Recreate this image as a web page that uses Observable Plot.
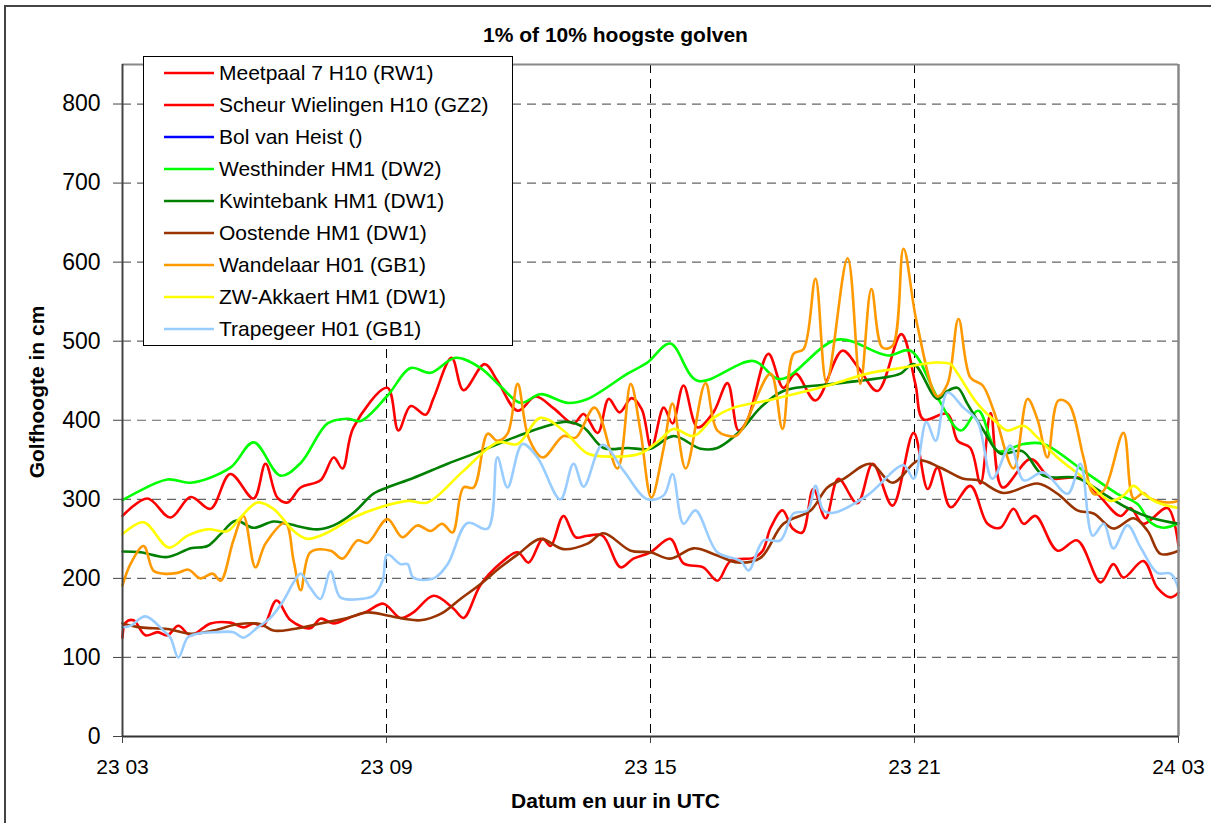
<!DOCTYPE html>
<html>
<head>
<meta charset="utf-8">
<script src="https://cdn.jsdelivr.net/npm/d3@7"></script>
<script src="https://cdn.jsdelivr.net/npm/@observablehq/plot@0.6"></script>
<style>
  html, body { margin: 0; padding: 0; background: #fff; }
  body { font-family: "Liberation Sans", Arial, sans-serif; }
  #wrap { position: relative; width: 1211px; height: 823px; overflow: hidden; background: #fff; }
  #frame { position: absolute; left: 4px; top: 5px; width: 1300px; height: 900px; border: 2px solid #444; box-sizing: border-box; }
  #chart { position: absolute; left: 0; top: 0; }
  .title { position: absolute; font-weight: bold; color: #000; white-space: nowrap; line-height: 1; }
  #legend { position: absolute; left: 143px; top: 56px; width: 370px; height: 290px; background: #fff; border: 1px solid #000; box-sizing: border-box; }
  .item { position: absolute; left: 0; height: 24px; display: flex; align-items: center; white-space: nowrap; font-size: 21px; color: #000; }
</style>
</head>
<body>
<div id="wrap">
  <div id="frame"></div>
  <div id="chart"></div>
  <div class="title" id="mainTitle"></div>
  <div class="title" id="xTitle"></div>
  <div class="title" id="yTitle"></div>
  <div id="legend"></div>
</div>
<script>
// ---- texts ----
const chartTitle = "1% of 10% hoogste golven";
const xAxisTitle = "Datum en uur in UTC";
const yAxisTitle = "Golfhoogte in cm";

// ---- axes ----
const xTickHours = [0, 6, 12, 18, 24];            // hours since 23 03 UTC
const xTickLabels = ["23 03", "23 09", "23 15", "23 21", "24 03"];
const yTicks = [0, 100, 200, 300, 400, 500, 600, 700, 800];

// ---- series ----
const seriesNames = [
  "Meetpaal 7 H10 (RW1)",
  "Scheur Wielingen H10 (GZ2)",
  "Bol van Heist ()",
  "Westhinder HM1 (DW2)",
  "Kwintebank HM1 (DW1)",
  "Oostende HM1 (DW1)",
  "Wandelaar H01 (GB1)",
  "ZW-Akkaert HM1 (DW1)",
  "Trapegeer H01 (GB1)"
];
const seriesColors = ["#FF0000", "#FF0000", "#0000FF", "#00FF00", "#008000", "#993300", "#FF9900", "#FFFF00", "#99CCFF"];

// [hours since 23 03 UTC, wave height in cm]
const meetpaal7 = [[0,279],[0.57,301],[1.09,277],[1.55,303],[2.0,288],[2.45,332],[2.98,301],[3.25,345],[3.52,302],[3.75,296],[4.05,315],[4.5,324],[4.8,353],[5.0,339],[5.25,391],[6.02,441],[6.27,387],[6.55,418],[6.89,407],[7.07,428],[7.48,479],[7.75,438],[8.23,471],[8.52,450],[8.98,412],[9.39,430],[9.8,415],[10.25,396],[10.48,408],[10.8,384],[11.05,427],[11.3,410],[11.57,428],[11.8,414],[12.02,365],[12.3,416],[12.5,396],[12.75,444],[13.07,391],[13.43,410],[13.75,447],[14.0,387],[14.2,400],[14.68,484],[15.02,441],[15.3,459],[15.75,425],[16.36,488],[16.73,466],[17.16,437],[17.7,509],[18.02,446],[18.2,401],[18.75,408],[18.98,374],[19.27,365],[19.5,320],[19.73,409],[20.0,315],[20.64,351],[21.09,327],[21.77,327],[22.16,307],[22.68,279],[22.91,289],[23.2,269],[23.75,289],[24,241]];
const scheurWielingen = [[0,125],[0.07,144],[0.25,147],[0.52,128],[0.8,132],[1.02,128],[1.27,140],[1.55,128],[2.0,143],[2.45,144],[2.75,138],[2.98,143],[3.2,140],[3.5,172],[3.82,147],[4.27,137],[4.5,149],[4.8,143],[5.14,150],[5.55,158],[5.93,168],[6.32,150],[6.61,157],[7.07,178],[7.52,162],[7.75,150],[8.14,192],[8.59,219],[8.98,233],[9.23,220],[9.55,250],[9.73,241],[10.02,279],[10.3,252],[10.57,254],[10.91,254],[11.32,214],[11.61,225],[12.0,233],[12.45,250],[12.75,219],[13.2,214],[13.52,197],[13.82,222],[14.34,226],[14.55,235],[14.73,264],[15.0,286],[15.23,263],[15.45,258],[15.7,313],[15.98,276],[16.27,326],[16.7,295],[17.05,345],[17.5,292],[17.98,384],[18.3,313],[18.52,340],[18.82,290],[19.27,317],[19.66,269],[19.95,264],[20.25,288],[20.48,269],[20.75,279],[21.25,235],[21.7,248],[22.23,195],[22.52,218],[22.75,201],[23.2,222],[23.52,188],[23.82,176],[24,182]];
const bolVanHeist = [];
const westhinder = [[0,299],[1.02,325],[1.55,321],[2.45,340],[2.98,372],[3.59,330],[4.05,346],[4.66,396],[5.11,402],[5.41,399],[6.02,431],[6.55,466],[7.0,460],[7.57,479],[8.14,466],[8.59,443],[9.05,422],[9.5,433],[10.11,422],[10.57,427],[11.48,459],[11.93,473],[12.45,497],[13.07,450],[14.34,475],[14.95,452],[16.25,502],[17.39,482],[17.91,488],[18.52,429],[19.05,387],[19.45,412],[19.89,361],[20.48,370],[20.93,370],[21.84,336],[22.61,307],[23.07,294],[23.36,271],[23.66,264],[24,270]];
const kwintebank = [[0,234],[0.41,233],[1.02,227],[1.55,238],[1.93,241],[2.23,256],[2.57,273],[2.98,264],[3.43,272],[3.75,269],[4.43,262],[4.8,267],[5.25,283],[5.7,307],[6.02,315],[6.61,327],[7.39,345],[8.14,361],[8.89,378],[9.66,393],[10.11,398],[10.48,391],[10.93,365],[11.48,365],[12.0,364],[12.52,380],[13.14,364],[13.52,365],[14.05,387],[14.5,416],[15.02,437],[16.16,446],[17.3,454],[17.68,459],[17.98,471],[18.52,427],[18.75,437],[18.98,441],[19.2,421],[19.57,387],[19.95,358],[20.45,361],[20.93,330],[21.7,327],[22.3,307],[22.84,289],[23.36,277],[24,269]];
const oostende = [[0,143],[0.41,138],[1.02,136],[1.55,130],[2.07,134],[2.61,142],[3.14,142],[3.43,134],[3.89,136],[4.5,143],[5.11,150],[5.57,157],[6.02,153],[6.39,149],[6.77,147],[7.23,155],[7.68,174],[8.14,193],[8.59,214],[9.0,231],[9.5,250],[10.02,237],[10.57,244],[10.93,257],[11.55,235],[12.0,233],[12.45,225],[12.98,238],[13.52,229],[13.98,220],[14.5,226],[15.02,269],[15.64,286],[16.02,315],[16.39,326],[17.0,345],[17.5,321],[18.09,349],[18.59,340],[19.11,326],[19.45,324],[20.02,308],[20.8,320],[21.25,307],[21.7,286],[22.07,282],[22.52,263],[22.98,276],[23.3,260],[23.59,231],[24,235]];
const wandelaar = [[0,191],[0.18,218],[0.48,241],[0.7,210],[0.93,206],[1.25,207],[1.5,211],[1.77,200],[2.05,206],[2.23,197],[2.52,248],[2.75,279],[3.02,214],[3.25,244],[3.7,270],[3.89,222],[4.05,185],[4.27,233],[4.73,235],[5.0,225],[5.34,248],[5.57,245],[6.02,275],[6.36,252],[6.7,267],[7.0,260],[7.27,269],[7.5,258],[7.75,315],[7.98,315],[8.3,383],[8.52,374],[8.75,383],[8.98,446],[9.23,378],[9.55,353],[10.02,380],[10.3,378],[10.73,416],[11.25,339],[11.55,446],[11.77,387],[12.02,302],[12.3,365],[12.5,421],[12.8,339],[13.25,447],[13.52,387],[13.93,380],[14.11,391],[14.73,459],[15.0,389],[15.25,484],[15.48,490],[15.75,579],[16.0,448],[16.48,605],[16.77,446],[17.02,566],[17.27,492],[17.5,494],[17.75,617],[18.05,524],[18.52,430],[18.75,446],[19.0,528],[19.27,454],[19.55,444],[19.8,412],[20.25,339],[20.57,427],[20.8,400],[21.02,353],[21.27,425],[21.5,421],[21.84,353],[22.07,307],[22.3,311],[22.75,384],[22.98,301],[23.2,308],[23.36,301],[23.75,296],[24,298]];
const zwAkkaert = [[0,256],[0.48,271],[1.05,239],[1.48,254],[1.93,262],[2.39,260],[2.68,277],[3.07,296],[3.43,288],[3.89,260],[4.2,250],[4.66,258],[5.25,277],[5.86,290],[6.48,298],[6.93,296],[7.75,336],[8.52,372],[8.98,370],[9.5,403],[10.02,387],[10.57,358],[11.16,354],[11.77,358],[12.23,376],[12.52,389],[12.98,380],[13.43,403],[13.89,416],[14.66,425],[15.41,435],[16.16,446],[16.93,459],[17.68,466],[18.48,473],[18.82,471],[18.98,459],[19.43,421],[19.89,396],[20.11,387],[20.48,393],[20.8,378],[21.25,353],[21.84,327],[22.45,298],[22.75,305],[22.98,317],[23.2,307],[23.52,296],[24,289]];
const trapegeer = [[0,138],[0.18,140],[0.52,152],[0.93,134],[1.09,125],[1.27,100],[1.48,125],[1.7,130],[2.16,132],[2.52,132],[2.75,125],[3.07,138],[3.36,150],[3.66,172],[3.89,195],[4.05,206],[4.27,188],[4.5,174],[4.73,209],[4.95,176],[5.41,174],[5.7,178],[5.91,197],[6.02,230],[6.32,218],[6.48,218],[6.61,201],[7.07,200],[7.39,218],[7.84,270],[8.3,263],[8.52,353],[8.75,315],[9.09,370],[9.43,353],[9.95,300],[10.25,345],[10.48,316],[10.91,369],[11.39,336],[11.93,300],[12.3,305],[12.5,332],[12.75,269],[13.02,286],[13.52,233],[14.05,222],[14.23,210],[14.57,248],[14.95,248],[15.25,282],[15.57,286],[15.75,317],[15.93,286],[16.16,283],[16.93,305],[17.75,343],[17.98,326],[18.27,398],[18.48,374],[18.75,435],[19.11,416],[19.43,399],[19.77,326],[20.18,368],[20.48,324],[20.93,334],[21.48,307],[21.77,345],[22.05,254],[22.3,269],[22.52,238],[22.84,267],[23.14,239],[23.52,207],[23.82,206],[24,187]];

const seriesData = [meetpaal7, scheurWielingen, bolVanHeist, westhinder, kwintebank, oostende, wandelaar, zwAkkaert, trapegeer];

// ---- chart ----
const W = 1211, H = 823;
const fontFam = '"Liberation Sans", Arial, sans-serif';

const lineMarks = seriesData.map((d, i) =>
  Plot.line(d, {x: d => d[0], y: d => d[1], stroke: seriesColors[i], strokeWidth: 2.6, curve: "catmull-rom"})
);

const plot = Plot.plot({
  width: W,
  height: H,
  marginLeft: 122,
  marginRight: 33,
  marginTop: 64,
  marginBottom: 87,
  style: {fontFamily: fontFam, background: "transparent", color: "#000", overflow: "visible"},
  x: {domain: [0, 24], axis: null},
  y: {domain: [0, 850], axis: null},
  marks: [
    Plot.gridY(yTicks.filter(t => t > 0), {stroke: "#666", strokeOpacity: 1, strokeWidth: 1.2, strokeDasharray: "9,6"}),
    Plot.gridX(xTickHours.filter(t => t > 0 && t < 24), {stroke: "#000", strokeOpacity: 1, strokeWidth: 1, strokeDasharray: "9,6"}),
    ...lineMarks,
    Plot.ruleY([850], {stroke: "#888", strokeWidth: 2}),
    Plot.ruleX([24], {stroke: "#888", strokeWidth: 2.5}),
    Plot.ruleX([0], {stroke: "#444", strokeWidth: 2}),
    Plot.ruleY([0], {stroke: "#333", strokeWidth: 2}),
    Plot.axisY({ticks: yTicks, tickSize: 9, tickPadding: 13, fontSize: 23, stroke: "#444", tickFormat: d => String(d)}),
    Plot.axisX({ticks: xTickHours, tickSize: 7, tickPadding: 16, fontSize: 21, stroke: "#444",
      tickFormat: (d) => xTickLabels[xTickHours.indexOf(d)]})
  ]
});
document.getElementById("chart").appendChild(plot);

// ---- titles ----
const t = document.getElementById("mainTitle");
t.textContent = chartTitle;
t.style.fontSize = "21px";
t.style.left = "0px"; t.style.width = "1231px"; t.style.textAlign = "center"; t.style.top = "24px";

const xt = document.getElementById("xTitle");
xt.textContent = xAxisTitle;
xt.style.fontSize = "21px";
xt.style.left = "0px"; xt.style.width = "1231px"; xt.style.textAlign = "center"; xt.style.top = "790px";

const yt = document.getElementById("yTitle");
yt.textContent = yAxisTitle;
yt.style.fontSize = "21px";
yt.style.left = "36px"; yt.style.top = "392px";
yt.style.transform = "translate(-50%, -50%) rotate(-90deg)";

// ---- legend ----
const lg = document.getElementById("legend");
seriesNames.forEach((name, i) => {
  const item = document.createElement("div");
  item.className = "item";
  item.style.top = (17 + i * 32 - 12 - 1) + "px";
  item.innerHTML = `<svg width="75" height="24" style="flex:none"><line x1="20" x2="70" y1="12" y2="12" stroke="${seriesColors[i]}" stroke-width="2.5"/></svg>`;
  const span = document.createElement("span");
  span.textContent = name;
  item.appendChild(span);
  lg.appendChild(item);
});
</script>
</body>
</html>
